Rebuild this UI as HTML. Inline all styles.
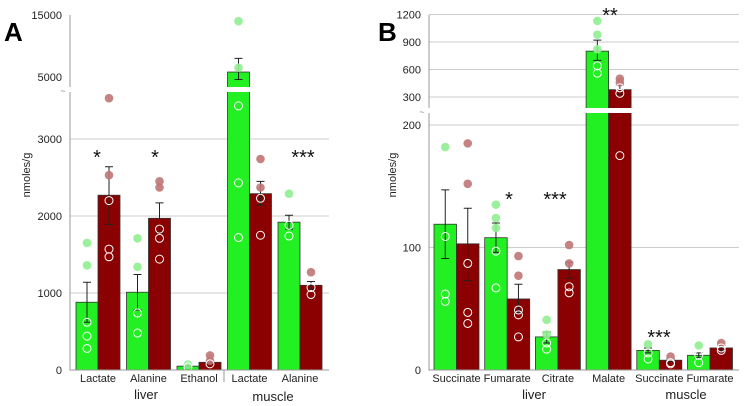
<!DOCTYPE html>
<html><head><meta charset="utf-8"><style>
body{margin:0;background:#fff}
svg{display:block;font-family:"Liberation Sans",sans-serif}
</style></head><body>
<svg id="c" width="744" height="406"></svg>
<script>
// Panel A data
const catsA=["Lactate","Alanine","Ethanol","Lactate","Alanine"];
const greenA=[880,1010,50,5800,1920];
const greenErrA=[[620,1140],[780,1240],[40,60],[4600,8000],[1830,2010]];
const redA=[2270,1970,100,2290,1100];
const redErrA=[[1890,2640],[1790,2170],[80,120],[2140,2450],[1050,1150]];
const greenDotsA=[[1650,1360],[1710,1340],[70],[14000,6500],[2290]];
const greenOpenA=[[620,440,280],[740,480],[40],[3430,2430,1720],[1880,1740]];
const redDotsA=[[3530,2530],[2450,2370],[190,120],[2740,2370],[1270]];
const redOpenA=[[2200,1570,1470],[1830,1710,1440],[80],[2230,1750],[1070,980]];
const starsA=["*","*","","","***"];
const ticksA=[0,1000,2000,3000,5000,15000];
// Panel B data
const catsB=["Succinate","Fumarate","Citrate","Malate","Succinate","Fumarate"];
const greenB=[119,108,27,800,16,12];
const greenErrB=[[91,147],[96,120],[22,31],[700,920],[14,18],[10,14]];
const redB=[103,58,82,380,8,18];
const redErrB=[[73,132],[47,70],[75,88],[330,430],[7,9],[16,20]];
const greenDotsB=[[182],[135,124,116],[41,29],[1130,980,820],[21],[20]];
const greenOpenB=[[109,62,56],[97,67],[22,17],[640,560],[14,9],[12,6]];
const redDotsB=[[185,152],[93,77],[102,87],[500,460],[11],[22]];
const redOpenB=[[87,47,38],[49,45,27],[68,63],[400,340,175],[6,5],[18,16]];
const starsB=["","*","***","**","***",""];
const ticksB=[0,100,200,300,600,900,1200];

const NS="http://www.w3.org/2000/svg";
const svg=document.getElementById('c');
function mk(t,a,p){const e=document.createElementNS(NS,t);for(const k in a)e.setAttribute(k,a[k]);(p||svg).appendChild(e);return e;}
function yA(v){return v<=3650?370-v*0.077:77-(v-5000)*0.0062;}
function yB(v){return v<=215?370-v*1.225:97-(v-300)*0.0917;}

function panel(o){
  const g=mk('g',{});
  
  
  // grid
  o.grid.forEach(v=>{const l=mk('line',{x1:o.x0,x2:o.x1,y1:o.y(v),y2:o.y(v),stroke:'#ccc','stroke-width':1},g);
    });
  o.cats.forEach((c,i)=>{
    const gx=o.first+i*o.step;
    [[o.green,o.gErr,o.gDots,o.gOpen,'#22f022','#90ee90',gx],[o.red,o.rErr,o.rDots,o.rOpen,'#8b0000','#c07575',gx+o.bw]].forEach((s,k)=>{
      const x=s[6],v=s[0][i],y=o.y(v);
      const r=mk('rect',{x:x,y:y,width:o.bw,height:370-y,fill:s[4],stroke:'#333','stroke-width':0.8},g);
      
      
      const cx=x+o.bw/2,e=s[1][i];
      const eb=mk('path',{d:`M${cx},${o.y(e[0])}V${o.y(e[1])}M${cx-4},${o.y(e[0])}h8M${cx-4},${o.y(e[1])}h8`,stroke:'#222',fill:'none','stroke-width':1},g);
      
      s[2][i].forEach(d=>{const p=mk('circle',{cx:cx,cy:o.y(d),r:4.3,fill:s[5],opacity:0.9},g);
        });
      s[3][i].forEach(d=>{const p=mk('circle',{cx:cx,cy:o.y(d),r:4,fill:'none',stroke:'#fff','stroke-width':1},g);
        });
    });
    const t=mk('text',{x:gx+o.bw,y:o.labY,'font-size':11,'text-anchor':'middle',fill:'#222'},g);t.textContent=c;
    
    if(o.stars[i]){const st=mk('text',{x:o.starX[i],y:o.starY[i],'font-size':20,'text-anchor':'middle',fill:'#111'},g);st.textContent=o.stars[i];
      }
  });
  // break band
  const br=mk('rect',{x:o.x0-6,y:o.brk[0],width:o.x1-o.x0+8,height:o.brk[1]-o.brk[0],fill:'#fff'},g);
  
  mk('text',{x:o.x0-7,y:o.brk[1]+2,'font-size':9,fill:'#888','text-anchor':'middle'},g).textContent='~';
  // axes
  const ax=mk('path',{d:`M${o.x0},15V${o.brk[0]}M${o.x0},${o.brk[1]}V370H${o.x1}`,stroke:'#999',fill:'none','stroke-width':1},g);
  
  o.ticks.forEach(v=>{const t=mk('text',{x:o.x0-8,y:o.y(v)+4,'font-size':11,'text-anchor':'end',fill:'#222'},g);t.textContent=v;
    });
  mk('line',{x1:o.sep,x2:o.sep,y1:370,y2:382,stroke:'#999'},g);
  const yt=mk('text',{x:o.ytx,y:175,'font-size':11,'text-anchor':'middle',fill:'#222',transform:`rotate(-90 ${o.ytx} 175)`},g);yt.textContent='nmoles/g';
  
  o.groups.forEach(gp=>{const t=mk('text',{x:gp[1],y:gp[2],'font-size':13,'text-anchor':'middle',fill:'#222'},g);t.textContent=gp[0];
    });
  const pl=mk('text',{x:o.lx,y:41,'font-size':26,'font-weight':'bold',fill:'#000'},g);pl.textContent=o.letter;
  
}
panel({name:'panel-a',letter:'A',lx:4,x0:70,x1:329,y:yA,grid:[1000,2000,3000],cats:catsA,first:76,step:50.5,bw:22,
  green:greenA,gErr:greenErrA,gDots:greenDotsA,gOpen:greenOpenA,red:redA,rErr:redErrA,rDots:redDotsA,rOpen:redOpenA,
  stars:starsA,starX:[97,155,0,0,303],starY:[164,164,0,0,164],labY:382,brk:[87,92],ticks:ticksA,sep:224,ytx:30,
  groups:[['liver',146,399],['muscle',273,401]]});
panel({name:'panel-b',letter:'B',lx:378,x0:429,x1:739,y:yB,grid:[100,200,300,600,900,1200],cats:catsB,first:434,step:50.7,bw:22.5,
  green:greenB,gErr:greenErrB,gDots:greenDotsB,gOpen:greenOpenB,red:redB,rErr:redErrB,rDots:redDotsB,rOpen:redOpenB,
  stars:starsB,starX:[0,509,555,610,659,0],starY:[0,206,206,22,344,0],labY:382,brk:[108,113],ticks:ticksB,sep:-10,ytx:396,
  groups:[['liver',534,399],['muscle',686,399]]});
</script>
</body></html>
